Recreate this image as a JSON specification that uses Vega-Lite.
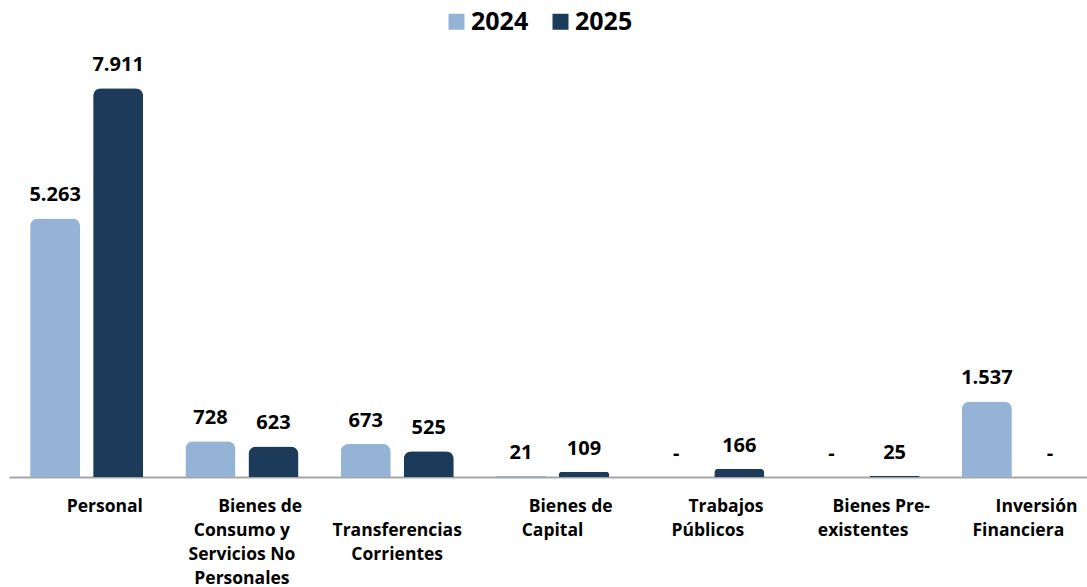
{
  "$schema": "https://vega.github.io/schema/vega-lite/v6.json",
  "width": 1087,
  "height": 393,
  "autosize": {"type": "none"},
  "padding": {"left": 0, "top": 84, "right": 0, "bottom": 110},
  "background": "white",
  "config": {
    "view": {"stroke": null},
    "font": "Open Sans",
    "locale": {"number": {"decimal": ",", "thousands": ".", "grouping": [3], "currency": ["$", ""]}}
  },
  "data": {
    "values": [
      {"categoria": "Personal", "anio": "2024", "valor": 5263},
      {"categoria": "Personal", "anio": "2025", "valor": 7911},
      {"categoria": "Bienes de Consumo y Servicios No Personales", "anio": "2024", "valor": 728},
      {"categoria": "Bienes de Consumo y Servicios No Personales", "anio": "2025", "valor": 623},
      {"categoria": "Transferencias Corrientes", "anio": "2024", "valor": 673},
      {"categoria": "Transferencias Corrientes", "anio": "2025", "valor": 525},
      {"categoria": "Bienes de Capital", "anio": "2024", "valor": 21},
      {"categoria": "Bienes de Capital", "anio": "2025", "valor": 109},
      {"categoria": "Trabajos Públicos", "anio": "2024", "valor": 0},
      {"categoria": "Trabajos Públicos", "anio": "2025", "valor": 166},
      {"categoria": "Bienes Pre-existentes", "anio": "2024", "valor": 0},
      {"categoria": "Bienes Pre-existentes", "anio": "2025", "valor": 25},
      {"categoria": "Inversión Financiera", "anio": "2024", "valor": 1537},
      {"categoria": "Inversión Financiera", "anio": "2025", "valor": 0}
    ]
  },
  "encoding": {
    "x": {
      "field": "categoria",
      "type": "nominal",
      "sort": null,
      "scale": {"range": [9, 1096], "paddingInner": 0, "paddingOuter": 0},
      "axis": {
        "title": null,
        "ticks": false,
        "domainColor": "#A6A6A6",
        "domainWidth": 2,
        "labelAngle": 0,
        "labelFont": "Open Sans",
        "labelFontSize": 17.5,
        "labelFontWeight": "bold",
        "labelColor": "#000000",
        "labelPadding": 20,
        "labelLineHeight": 24,
        "labelLimit": 0,
        "labelBaseline": "top",
        "labelExpr": "datum.value == 'Personal' ? ['\u200b\u00a0\u00a0\u00a0\u00a0\u00a0\u00a0\u00a0\u00a0Personal'] : datum.value == 'Bienes de Consumo y Servicios No Personales' ? ['\u200b\u00a0\u00a0\u00a0\u00a0\u00a0\u00a0\u00a0\u00a0Bienes de', 'Consumo y', 'Servicios No', 'Personales'] : datum.value == 'Transferencias Corrientes' ? ['\u200b', 'Transferencias', 'Corrientes'] : datum.value == 'Bienes de Capital' ? ['\u200b\u00a0\u00a0\u00a0\u00a0\u00a0\u00a0\u00a0\u00a0Bienes de', 'Capital'] : datum.value == 'Trabajos Públicos' ? ['\u200b\u00a0\u00a0\u00a0\u00a0\u00a0\u00a0\u00a0\u00a0Trabajos', 'Públicos'] : datum.value == 'Bienes Pre-existentes' ? ['\u200b\u00a0\u00a0\u00a0\u00a0\u00a0\u00a0\u00a0\u00a0Bienes Pre-', 'existentes'] : ['\u200b\u00a0\u00a0\u00a0\u00a0\u00a0\u00a0\u00a0\u00a0Inversión', 'Financiera']"
      }
    },
    "xOffset": {
      "field": "anio",
      "type": "nominal",
      "scale": {"paddingInner": 0.206, "paddingOuter": 0.335}
    },
    "y": {
      "field": "valor",
      "type": "quantitative",
      "scale": {"domain": [0, 8000]},
      "axis": null
    }
  },
  "layer": [
    {
      "mark": {"type": "bar", "cornerRadiusTopLeft": 8, "cornerRadiusTopRight": 8},
      "encoding": {
        "color": {
          "field": "anio",
          "type": "nominal",
          "scale": {"domain": ["2024", "2025"], "range": ["#95B3D7", "#1C3A5A"]},
          "legend": {
            "title": null,
            "orient": "none",
            "direction": "horizontal",
            "legendX": 444,
            "legendY": -75,
            "padding": 0,
            "symbolType": "square",
            "symbolSize": 256,
            "symbolStrokeWidth": 0,
            "labelFont": "Open Sans",
            "labelFontSize": 25,
            "labelFontWeight": "bold",
            "labelColor": "#000000",
            "labelOffset": 2,
            "columnPadding": 19
          }
        }
      }
    },
    {
      "mark": {"type": "text", "baseline": "alphabetic", "dy": -17, "font": "Open Sans", "fontSize": 20, "fontWeight": "bold", "color": "#000000"},
      "encoding": {
        "text": {
          "condition": {"test": "datum.valor == 0", "value": "-"},
          "field": "valor",
          "type": "quantitative",
          "format": ",.0f"
        }
      }
    }
  ]
}
